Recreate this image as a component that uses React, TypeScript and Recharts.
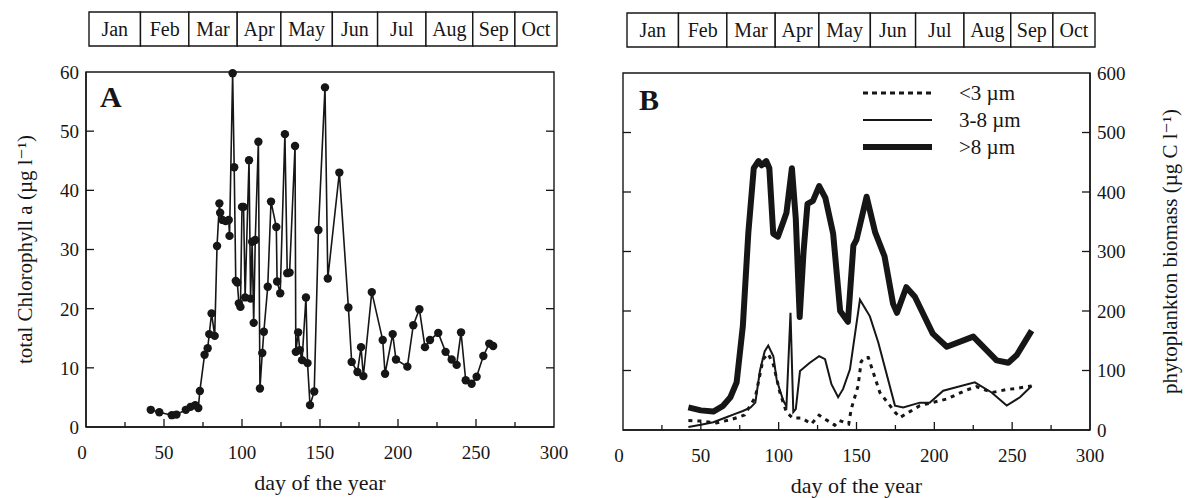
import React from 'react';
import { LineChart, ComposedChart, BarChart, Bar, Line, XAxis, YAxis, ReferenceArea, Legend } from 'recharts';

const ink = '#161616';
const serif = '"Liberation Serif", "DejaVu Serif", serif';

// month header: label and the day (on the 0-300 scale) where each box ends
const months = ['Jan', 'Feb', 'Mar', 'Apr', 'May', 'Jun', 'Jul', 'Aug', 'Sep', 'Oct'];
const monthEnds = [33, 64, 95, 123, 156, 185, 216, 246, 273, 300];

const dayTicks = [0, 25, 50, 75, 100, 125, 150, 175, 200, 225, 250, 275, 300];
const chlTicks = [0, 10, 20, 30, 40, 50, 60];
const biomassTicks = [0, 100, 200, 300, 400, 500, 600];

// panel A: total chlorophyll a
const chlDays = [41.5, 47, 55, 58, 64, 67, 70, 72, 73, 76, 78, 79, 80.5, 82.5, 84, 85.5, 86, 87.5, 89.5, 91.5, 92,
  94, 95, 96, 97, 98, 99, 100, 101, 102, 104.5, 105.5, 106.5, 107.5, 108.5, 110.5, 111.5, 113, 114, 116.5, 118.6,
  122, 122.5, 124.5, 127.5, 129, 130.5, 134, 134.5, 136, 137, 138.5, 141, 142, 143.6, 146.3, 149, 153.2, 155,
  162.4, 168.2, 170.3, 174, 176.3, 177.8, 183.2, 190.2, 191.7, 196.6, 198.7, 206, 209.8, 213.7, 217.3, 220.5,
  225.8, 230.5, 234.4, 237.6, 240.4, 243.4, 247.2, 250.4, 254.7, 258.5, 261];
const chlValues = [2.9, 2.5, 2.0, 2.1, 2.9, 3.4, 3.7, 3.2, 6.1, 12.2, 13.3, 15.7, 19.2, 15.4, 30.6, 37.8, 36.2, 35, 34.8, 35.0, 32.3,
  59.8, 43.9, 24.7, 24.4, 20.9, 20.3, 37.2, 37.2, 21.9, 45.1, 21.7, 31.3, 17.6, 31.6, 48.2, 6.5, 12.5, 16.1, 23.7, 38.1,
  33.8, 24.6, 22.6, 49.5, 26.0, 26.1, 47.5, 12.7, 16.0, 13, 11.3, 21.9, 10.8, 3.7, 6.0, 33.3, 57.4, 25.1,
  43.0, 20.2, 11.0, 9.3, 13.5, 8.6, 22.8, 14.7, 9.0, 15.7, 11.4, 10.2, 17.2, 19.9, 13.5, 14.7,
  15.9, 12.7, 11.4, 10.5, 16.0, 7.9, 7.3, 8.5, 12.0, 14.1, 13.7];

// panel B: biomass per size class
const smallDays = [42, 50, 60, 70, 78, 85, 90, 93.3, 96.6, 100.8, 105, 109, 115, 121, 126, 130, 136, 139, 145, 146.6,
  151, 153, 155.5, 157.6, 165, 174.7, 178, 183.7, 190.7, 207.9, 219.7, 227, 237, 246.5, 253, 262.5];
const smallValues = [16, 15, 12, 18, 25, 55, 119, 128, 110, 63, 30, 20, 20, 10, 25, 18, 8, 16, 10, 35,
  74, 115, 122, 122, 63, 30, 21, 30, 41, 52, 66, 73, 63, 68, 70, 74];

const midDays = [42, 50, 58, 66, 72, 77, 82, 85, 88, 91, 93.3, 96.6, 98.7, 101, 103, 105, 107.6, 109.4, 111, 113.7,
  120, 126, 129.8, 133.9, 138.2, 141.4, 145.8, 152.2, 158.6, 164, 174.7, 180, 190.7, 197, 205.7, 226, 236.8,
  246.5, 255, 262.5];
const midValues = [5, 9, 13, 21, 27, 32, 38, 46, 100, 132, 142, 124, 85, 65, 49, 40, 197, 30, 35, 99,
  113, 124, 119, 77, 55, 69, 102, 219, 191, 147, 41, 38, 46, 46, 66, 80, 63,
  41, 55, 74];

const largeDays = [42, 50, 58, 64, 69, 73, 77, 80.5, 84, 87, 89, 92, 94, 96.5, 99.5, 103, 105, 108.5, 111, 113.5,
  116, 118.5, 122, 126, 130, 135, 139.5, 144.5, 148, 150, 156.5, 162, 168, 173.5, 176, 182, 187.5, 199, 208,
  225, 240, 247.5, 253, 262.5];
const largeValues = [38, 33, 31, 40, 55, 80, 175, 331, 440, 452, 445, 452, 440, 330, 325, 350, 365, 440, 355, 190,
  300, 380, 385, 410, 390, 330, 200, 182, 310, 320, 392, 332, 292, 212, 197, 240, 224, 162, 140,
  157, 117, 113, 126, 167];

const chlData = chlDays.map((d, i) => ({ day: d, chl: chlValues[i] }));
const smallData = smallDays.map((d, i) => ({ day: d, v: smallValues[i] }));
const midData = midDays.map((d, i) => ({ day: d, v: midValues[i] }));
const largeData = largeDays.map((d, i) => ({ day: d, v: largeValues[i] }));

// one stacked row, each month's box as long as its span of days
const monthRow: Record<string, number | string> = { row: 'months' };
months.forEach((m, i) => {
  monthRow[m] = monthEnds[i] - (i === 0 ? 0 : monthEnds[i - 1]);
});

const legendItems = [
  { label: '<3 \u00b5m', width: 3, dash: '5 4' },
  { label: '3-8 \u00b5m', width: 2, dash: undefined },
  { label: '>8 \u00b5m', width: 6, dash: undefined },
];

const BottomTick = (props: any) => {
  const { x, y, payload } = props;
  const v = payload.value;
  const major = v % 50 === 0;
  return (
    <g>
      {v > 0 && v < 300 && (
        <line x1={x} x2={x} y1={y} y2={y - (major ? 8 : 5)} stroke={ink} strokeWidth={1.3} />
      )}
      {major && (
        <text x={v === 0 ? x - 4 : x} y={y + 32} textAnchor="middle" fontSize={19} fontFamily={serif} fill={ink}>
          {v}
        </text>
      )}
    </g>
  );
};

const makeLeftTick = (plotWidth: number) => (props: any) => {
  const { x, y, payload } = props;
  const v = payload.value;
  const inner = v > 0 && v < 60;
  return (
    <g>
      {inner && <line x1={x} x2={x + 8} y1={y} y2={y} stroke={ink} strokeWidth={1.3} />}
      {inner && <line x1={x + plotWidth} x2={x + plotWidth - 8} y1={y} y2={y} stroke={ink} strokeWidth={1.3} />}
      <text x={x - 7} y={y} dy="0.36em" textAnchor="end" fontSize={19} fontFamily={serif} fill={ink}>
        {v}
      </text>
    </g>
  );
};

const makeRightTick = (plotWidth: number) => (props: any) => {
  const { x, y, payload } = props;
  const v = payload.value;
  const inner = v > 0 && v < 600;
  return (
    <g>
      {inner && <line x1={x} x2={x - 8} y1={y} y2={y} stroke={ink} strokeWidth={1.3} />}
      {inner && <line x1={x - plotWidth} x2={x - plotWidth + 8} y1={y} y2={y} stroke={ink} strokeWidth={1.3} />}
      <text x={x + 7} y={y} dy="0.36em" textAnchor="start" fontSize={19} fontFamily={serif} fill={ink}>
        {v}
      </text>
    </g>
  );
};

const LeftTickA = makeLeftTick(468);
const RightTickB = makeRightTick(467);

const SizeLegend = () => (
  <svg width={200} height={90}>
    {legendItems.map((it, i) => {
      const yy = 15 + i * 27;
      return (
        <g key={it.label}>
          <line x1={8} x2={77} y1={yy} y2={yy} stroke={ink} strokeWidth={it.width} strokeDasharray={it.dash} />
          <text x={104} y={yy} dy="0.33em" fontSize={21} fontFamily={serif} fill={ink}>
            {it.label}
          </text>
        </g>
      );
    })}
  </svg>
);

const MonthBar = ({ left, top }: { left: number; top: number }) => (
  <div style={{ position: 'absolute', left, top }}>
    <BarChart
      width={600}
      height={60}
      data={[monthRow]}
      layout="vertical"
      barCategoryGap={0}
      margin={{ top: 12, right: 600 - 468 - 89, bottom: 14, left: 89 }}
    >
      <XAxis type="number" domain={[0, 300]} hide />
      <YAxis type="category" dataKey="row" hide />
      {months.map((m) => (
        <Bar
          key={m}
          dataKey={m}
          stackId="m"
          fill="#fff"
          stroke={ink}
          strokeWidth={1.4}
          isAnimationActive={false}
          label={(p: any) => (
            <text
              x={p.x + p.width / 2}
              y={p.y + p.height / 2}
              dy="0.34em"
              textAnchor="middle"
              fontSize={20}
              fontFamily={serif}
              fill={ink}
            >
              {m}
            </text>
          )}
        />
      ))}
    </BarChart>
  </div>
);

export default function App() {
  return (
    <div style={{ position: 'absolute', left: 0, top: 0, width: 1192, height: 498, background: '#fff' }}>
      <MonthBar left={0} top={0} />
      <MonthBar left={538} top={1} />

      <div style={{ position: 'absolute', left: 0, top: 0 }}>
        <LineChart width={600} height={498} data={chlData} margin={{ top: 72, right: 46, bottom: 31, left: 0 }}>
          <ReferenceArea
            x1={0}
            x2={300}
            y1={0}
            y2={60}
            fill="none"
            stroke={ink}
            strokeWidth={1.4}
            label={{ value: 'A', position: 'insideTopLeft', offset: 14, fontSize: 30, fontWeight: 'bold', fontFamily: serif, fill: ink }}
          />
          <XAxis
            type="number"
            dataKey="day"
            domain={[0, 300]}
            ticks={dayTicks}
            interval={0}
            height={40}
            tickSize={0}
            tickMargin={0}
            tickLine={false}
            axisLine={{ stroke: ink, strokeWidth: 1.4 }}
            tick={<BottomTick />}
            label={{ value: 'day of the year', position: 'bottom', offset: 7, fontSize: 22, fontFamily: serif, fill: ink }}
          />
          <YAxis
            type="number"
            domain={[0, 60]}
            ticks={chlTicks}
            interval={0}
            width={86}
            tickSize={0}
            tickMargin={0}
            tickLine={false}
            axisLine={{ stroke: ink, strokeWidth: 1.4 }}
            tick={<LeftTickA />}
            label={{
              value: 'total Chlorophyll a (\u00b5g l\u207b\u00b9)',
              angle: -90,
              position: 'insideLeft',
              offset: 25,
              fontSize: 21,
              fontFamily: serif,
              fill: ink,
              style: { textAnchor: 'middle' },
            }}
          />
          <Line
            type="linear"
            dataKey="chl"
            stroke={ink}
            strokeWidth={1.6}
            dot={{ r: 4.2, fill: ink, stroke: ink, strokeWidth: 0 }}
            isAnimationActive={false}
          />
        </LineChart>
      </div>

      <div style={{ position: 'absolute', left: 600, top: 0 }}>
        <ComposedChart width={592} height={498} margin={{ top: 73, right: 0, bottom: 28, left: 23 }}>
          <ReferenceArea
            x1={0}
            x2={300}
            y1={0}
            y2={600}
            fill="none"
            stroke={ink}
            strokeWidth={1.4}
            label={{ value: 'B', position: 'insideTopLeft', offset: 16, fontSize: 30, fontWeight: 'bold', fontFamily: serif, fill: ink }}
          />
          <XAxis
            type="number"
            dataKey="day"
            domain={[0, 300]}
            ticks={dayTicks}
            interval={0}
            height={40}
            tickSize={0}
            tickMargin={0}
            tickLine={false}
            axisLine={{ stroke: ink, strokeWidth: 1.4 }}
            tick={<BottomTick />}
            label={{ value: 'day of the year', position: 'bottom', offset: 7, fontSize: 22, fontFamily: serif, fill: ink }}
          />
          <YAxis
            orientation="right"
            type="number"
            domain={[0, 600]}
            ticks={biomassTicks}
            interval={0}
            width={102}
            tickSize={0}
            tickMargin={0}
            tickLine={false}
            axisLine={{ stroke: ink, strokeWidth: 1.4 }}
            tick={<RightTickB />}
            label={{
              value: 'phytoplankton biomass (\u00b5g C l\u207b\u00b9)',
              angle: -90,
              position: 'insideRight',
              offset: 22,
              fontSize: 21,
              fontFamily: serif,
              fill: ink,
              style: { textAnchor: 'middle' },
            }}
          />
          <Legend
            layout="horizontal"
            verticalAlign="middle"
            align="center"
            content={<SizeLegend />}
            wrapperStyle={{ position: 'absolute', left: 255, top: 78, width: 200, height: 90 }}
          />
          <Line data={largeData} type="linear" dataKey="v" name=">8 µm" stroke={ink} strokeWidth={6} strokeLinejoin="round" dot={false} isAnimationActive={false} />
          <Line data={midData} type="linear" dataKey="v" name="3-8 µm" stroke={ink} strokeWidth={2} dot={false} isAnimationActive={false} />
          <Line data={smallData} type="linear" dataKey="v" name="<3 µm" stroke={ink} strokeWidth={3} strokeDasharray="4 5" dot={false} isAnimationActive={false} />
        </ComposedChart>
      </div>
    </div>
  );
}
